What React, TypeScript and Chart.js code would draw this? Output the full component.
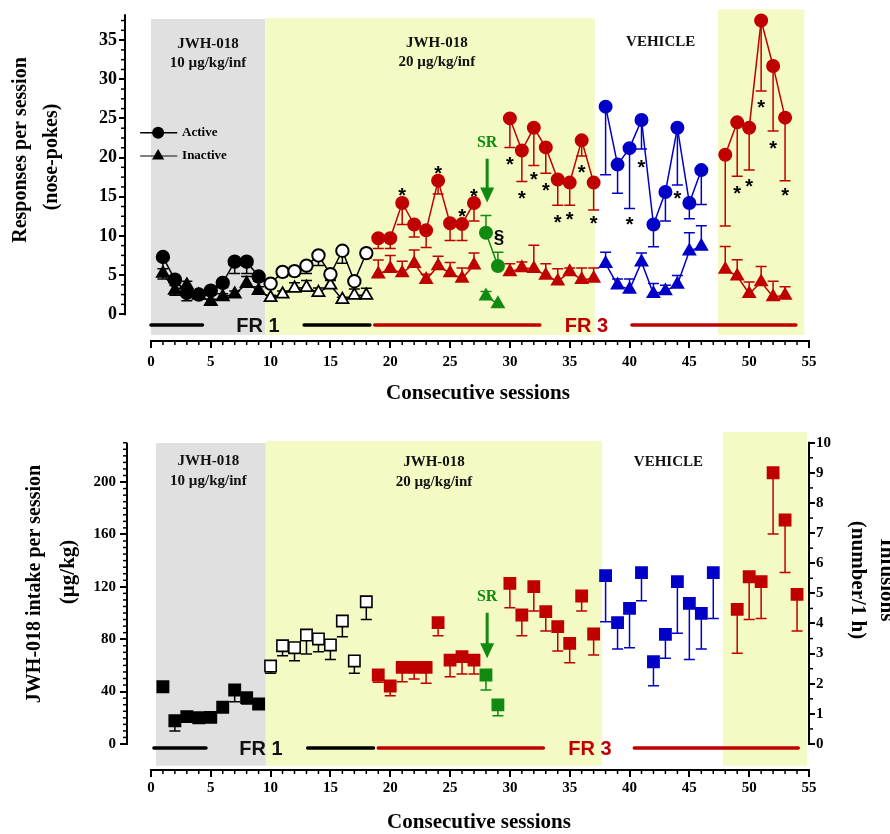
import React, { useEffect, useRef } from 'react';
import { Chart, registerables } from 'chart.js';

Chart.register(...registerables);

const SERIF = '"Liberation Serif", "Times New Roman", serif';
const SANS = '"Liberation Sans", Arial, sans-serif';

const RED = '#C00000';
const BLUE = '#0000C8';
const GREEN = '#118A11';
const BLACK = '#000000';
const WHITE = '#FFFFFF';
const GRAY_BAND = '#E0E0E0';
const YELLOW_BAND = '#F3FAC3';

// ---------------- Top panel: responses per session (nose-pokes) ----------------
const sessA = [1, 2, 3, 4, 5, 6, 7, 8, 9, 10, 11, 12, 13, 14, 15, 16, 17, 18];
const lastSession10ug = 9;
const activeA = [7.3, 4.4, 2.7, 2.5, 3.0, 4.0, 6.7, 6.7, 4.8, 3.9, 5.4, 5.5, 6.2, 7.5, 5.1, 8.1, 4.2, 7.8];
const activeAErr = [2.8, 2.0, 1.0, 0.5, 0.6, 0.6, 1.5, 1.5, 0.6, 0.3, 0.6, 0.6, 1.0, 1.3, 0.6, 1.6, 0.5, 0.6];
const inactiveA = [5.2, 3.05, 3.7, 2.4, 1.6, 2.2, 2.55, 3.9, 3.0, 2.1, 2.55, 3.3, 3.4, 2.75, 3.7, 1.85, 2.4, 2.4];
const inactiveAErr = [0.6, 0.6, 0.5, 0.4, 0.3, 0.4, 0.4, 0.9, 0.5, 0.3, 0.4, 0.7, 0.9, 0.6, 0.6, 0.3, 0.8, 0.9];

const sessB = [19, 20, 21, 22, 23, 24, 25, 26, 27];
const activeB = [9.7, 9.7, 14.2, 11.45, 10.7, 17.05, 11.6, 11.5, 14.2];
const activeBErr = [1.3, 1.3, 2.75, 1.6, 2.2, 1.7, 2.2, 2.1, 2.3];
const inactiveB = [5.1, 5.8, 5.25, 6.45, 4.4, 6.15, 5.25, 4.55, 6.25];
const inactiveBErr = [1.8, 1.7, 1.5, 1.75, 0.7, 1.25, 1.35, 1.35, 1.55];

const sessSR = [28, 29];
const activeSR = [10.4, 6.15];
const activeSRErr = [2.2, 1.75];
const inactiveSR = [2.3, 1.3];
const inactiveSRErr = [0.6, 0];

const sessC = [30, 31, 32, 33, 34, 35, 36, 37];
const activeC = [25.0, 20.9, 23.8, 21.3, 17.2, 16.8, 22.2, 16.8];
const activeCErr = [3.7, 3.95, 4.8, 3.3, 3.3, 2.9, 2.0, 3.5];
const inactiveC = [5.4, 5.9, 5.8, 4.95, 4.2, 5.4, 4.4, 4.55];
const inactiveCErr = [1.05, 0.75, 3.0, 1.5, 1.6, 0.5, 1.5, 1.35];

const sessVeh = [38, 39, 40, 41, 42, 43, 44, 45, 46];
const activeVeh = [26.5, 19.1, 21.2, 24.8, 11.45, 15.6, 23.8, 14.2, 18.4];
const activeVehErr = [8.7, 3.65, 7.7, 3.7, 2.85, 3.7, 7.3, 2.0, 4.4];
const inactiveVeh = [6.45, 3.7, 3.15, 6.65, 2.6, 2.95, 3.8, 8.05, 8.65];
const inactiveVehErr = [1.45, 0.8, 1.35, 1.15, 1.3, 0.75, 1.15, 2.35, 2.65];

const sessE = [48, 49, 50, 51, 52, 53];
const activeE = [20.35, 24.5, 23.8, 37.5, 31.7, 25.1];
const activeEErr = [9.1, 6.9, 5.4, 9.0, 8.3, 8.05];
const inactiveE = [5.7, 4.85, 2.6, 4.1, 2.2, 2.4];
const inactiveEErr = [2.95, 2.1, 1.5, 2.0, 2.0, 1.1];

const starSessions = [21, 24, 26, 27, 30, 31, 32, 33, 34, 35, 36, 37, 40, 41, 44, 49, 50, 51, 52, 53];
const starLevels = [15.8, 18.6, 13.1, 15.7, 19.8, 15.4, 17.8, 16.4, 12.4, 12.7, 18.7, 12.2, 12.1, 19.4, 15.45, 16.0, 17.0, 27.0, 21.8, 15.8];

// ---------------- Bottom panel: JWH-018 intake (µg/kg) ----------------
const intakeSessA = [1, 2, 3, 4, 5, 6, 7, 8, 9, 10, 11, 12, 13, 14, 15, 16, 17, 18];
const intakeA = [43.7, 17.8, 20.9, 20.1, 20.3, 28.0, 41.2, 35.4, 30.5, 59.5, 75.0, 73.5, 83.2, 80.2, 75.6, 93.9, 63.4, 108.6];
const intakeAErr = [0, 7.9, 1.5, 1.5, 3.5, 1.5, 8.9, 4.9, 1.0, 5.5, 7.6, 9.9, 14.5, 9.7, 11.0, 12.0, 9.4, 13.5];
const intakeSessB = [19, 20, 21, 22, 23, 24, 25, 26, 27];
const intakeB = [52.7, 44.3, 58.5, 58.5, 58.5, 92.6, 64.1, 66.7, 64.1];
const intakeBErr = [5.6, 7.4, 10.9, 8.9, 12.2, 9.9, 12.7, 13.3, 10.7];
const intakeSessSR = [28, 29];
const intakeSR = [52.7, 29.8];
const intakeSRErr = [11.5, 8.2];
const intakeSessC = [30, 31, 32, 33, 34, 35, 36, 37];
const intakeC = [122.6, 98.5, 120.1, 101.0, 89.6, 76.8, 113.0, 84.0];
const intakeCErr = [18.5, 15.8, 18.6, 14.7, 18.6, 14.7, 11.5, 16.1];
const intakeSessVeh = [38, 39, 40, 41, 42, 43, 44, 45, 46, 47];
const intakeVeh = [128.5, 92.6, 103.6, 130.8, 62.8, 83.7, 123.9, 107.4, 99.7, 130.8];
const intakeVehErr = [35.1, 20.1, 30.1, 21.4, 18.3, 18.3, 39.4, 42.8, 27.2, 34.9];
const intakeSessE = [49, 50, 51, 52, 53, 54];
const intakeE = [102.8, 127.7, 123.9, 207.1, 171.0, 114.3];
const intakeEErr = [33.6, 32.6, 28.0, 46.8, 40.0, 28.0];

// ---------------- Tick labels ----------------
const xTicks = [0, 5, 10, 15, 20, 25, 30, 35, 40, 45, 50, 55];
const topYTicks = [0, 5, 10, 15, 20, 25, 30, 35];
const intakeTicks = [0, 40, 80, 120, 160, 200];
const infusionTicks = [0, 1, 2, 3, 4, 5, 6, 7, 8, 9, 10];
const intakePerInfusionUnit = 23;

function series(sess: number[], vals: number[], errs: number[], dir: number, style: any) {
  return { data: sess.map((x, i) => ({ x, y: vals[i] })), errors: errs, errDir: dir, ...style };
}

function circleStyle(color: string, fill: any) {
  return {
    pointStyle: 'circle', pointRadius: 6.2, pointBackgroundColor: fill, pointBorderColor: color,
    pointBorderWidth: 1.6, borderColor: color, borderWidth: 1.5, showLine: true, errColor: color,
  };
}
function triStyle(color: string, fill: any) {
  return {
    pointStyle: 'triangle', pointRadius: 7, pointBackgroundColor: fill, pointBorderColor: color,
    pointBorderWidth: 1.6, borderColor: color, borderWidth: 1.5, showLine: true, errColor: color,
  };
}
function squareStyle(color: string, fill: any) {
  return {
    pointStyle: 'rect', pointRadius: 8, pointBackgroundColor: fill, pointBorderColor: color,
    pointBorderWidth: 1.5, borderColor: color, showLine: false, errColor: color,
  };
}

function makeDecor(spec: any) {
  return {
    id: 'decor_' + spec.id,
    beforeDatasetsDraw(chart: any) {
      const { ctx, scales } = chart;
      const X = (v: number) => scales.x.getPixelForValue(v);
      const Y = (v: number) => scales.y.getPixelForValue(v);
      ctx.save();
      for (const b of spec.bands) {
        ctx.fillStyle = b.color;
        ctx.fillRect(X(b.from), Y(b.top), X(b.to) - X(b.from), Y(spec.bandBottom) - Y(b.top));
      }
      ctx.lineCap = 'round';
      ctx.lineWidth = 3.5;
      for (const s of spec.frSegs) {
        ctx.strokeStyle = s.color;
        ctx.beginPath();
        ctx.moveTo(X(s.from), Y(spec.frY));
        ctx.lineTo(X(s.to), Y(spec.frY));
        ctx.stroke();
      }
      ctx.font = `bold 20px ${SANS}`;
      ctx.textAlign = 'center';
      ctx.textBaseline = 'middle';
      for (const l of spec.frLabels) {
        ctx.fillStyle = l.color;
        ctx.fillText(l.text, X(l.x), Y(spec.frY) + 1);
      }
      ctx.lineCap = 'butt';
      chart.data.datasets.forEach((d: any, i: number) => {
        if (!d.errors) return;
        const meta = chart.getDatasetMeta(i);
        const sc = scales[meta.yAxisID];
        ctx.strokeStyle = d.errColor;
        ctx.lineWidth = 1.5;
        meta.data.forEach((el: any, j: number) => {
          const e = d.errors[j];
          if (!e) return;
          const yEnd = sc.getPixelForValue(d.data[j].y + d.errDir * e);
          ctx.beginPath();
          ctx.moveTo(el.x, el.y);
          ctx.lineTo(el.x, yEnd);
          ctx.moveTo(el.x - 5.5, yEnd);
          ctx.lineTo(el.x + 5.5, yEnd);
          ctx.stroke();
        });
      });
      ctx.restore();
    },
    afterDatasetsDraw(chart: any) {
      const { ctx, scales } = chart;
      const X = (v: number) => scales.x.getPixelForValue(v);
      const Y = (v: number) => scales.y.getPixelForValue(v);
      ctx.save();
      // band labels
      ctx.fillStyle = '#111';
      ctx.font = `bold 15px ${SERIF}`;
      ctx.textAlign = 'center';
      ctx.textBaseline = 'middle';
      for (const l of spec.bandLabels) ctx.fillText(l.text, X(l.x), Y(l.y));
      // stars
      if (spec.stars) {
        ctx.font = `bold 20px ${SANS}`;
        ctx.textBaseline = 'alphabetic';
        ctx.fillStyle = '#000';
        spec.stars.xs.forEach((s: number, i: number) => {
          ctx.fillText('*', X(s), Y(spec.stars.ys[i]) + 11.6);
        });
      }
      // SR arrow
      if (spec.arrow) {
        const a = spec.arrow;
        const ax = X(a.x);
        const y0 = Y(a.from);
        const tip = Y(a.to);
        const head = 15;
        ctx.strokeStyle = GREEN;
        ctx.fillStyle = GREEN;
        ctx.lineWidth = 3;
        ctx.beginPath();
        ctx.moveTo(ax, y0);
        ctx.lineTo(ax, tip - head + 1);
        ctx.stroke();
        ctx.beginPath();
        ctx.moveTo(ax - 7, tip - head);
        ctx.lineTo(ax + 7, tip - head);
        ctx.lineTo(ax, tip);
        ctx.closePath();
        ctx.fill();
        ctx.font = `bold 16px ${SERIF}`;
        ctx.textBaseline = 'middle';
        ctx.textAlign = 'center';
        ctx.fillText('SR', ax, Y(a.labelY));
      }
      if (spec.section) {
        ctx.fillStyle = '#000';
        ctx.font = `bold 19px ${SANS}`;
        ctx.textAlign = 'center';
        ctx.textBaseline = 'middle';
        ctx.fillText('§', X(spec.section.x), Y(spec.section.y));
      }
      if (spec.legend) {
        for (const l of spec.legend) {
          const y = Y(l.y);
          ctx.strokeStyle = l.lineColor;
          ctx.lineWidth = 1.5;
          ctx.beginPath();
          ctx.moveTo(X(l.from), y);
          ctx.lineTo(X(l.to), y);
          ctx.stroke();
          const mx = X(l.marker);
          ctx.fillStyle = '#000';
          ctx.beginPath();
          if (l.shape === 'circle') {
            ctx.arc(mx, y, 6, 0, Math.PI * 2);
          } else {
            ctx.moveTo(mx, y - 7);
            ctx.lineTo(mx + 6.1, y + 3.5);
            ctx.lineTo(mx - 6.1, y + 3.5);
            ctx.closePath();
          }
          ctx.fill();
          ctx.font = `bold 13px ${SERIF}`;
          ctx.textAlign = 'left';
          ctx.textBaseline = 'middle';
          ctx.fillText(l.text, X(l.textX), y);
        }
      }
      ctx.restore();
    },
    afterDraw(chart: any) {
      const { ctx, scales, chartArea } = chart;
      const X = (v: number) => scales.x.getPixelForValue(v);
      const Y = (v: number) => scales.y.getPixelForValue(v);
      ctx.save();
      ctx.strokeStyle = '#000';
      ctx.lineWidth = 2;
      // left axis
      const L = chartArea.left;
      ctx.beginPath();
      ctx.moveTo(L, Y(0) + 1);
      ctx.lineTo(L, Y(spec.yTop));
      ctx.stroke();
      ctx.lineWidth = 1.5;
      for (let k = 1; k * spec.yMinor <= spec.yTop; k++) {
        if (k % spec.yMinorPerMajor === 0) continue;
        const yy = Y(k * spec.yMinor);
        ctx.beginPath();
        ctx.moveTo(L - 4, yy);
        ctx.lineTo(L, yy);
        ctx.stroke();
      }
      // x axis
      const B = chartArea.bottom;
      ctx.lineWidth = 2;
      ctx.beginPath();
      ctx.moveTo(X(0) - 1, B);
      ctx.lineTo(X(55) + 1, B);
      ctx.stroke();
      ctx.lineWidth = 1.5;
      for (let s = 1; s < 55; s++) {
        if (s % 5 === 0) continue;
        ctx.beginPath();
        ctx.moveTo(X(s), B);
        ctx.lineTo(X(s), B + 4);
        ctx.stroke();
      }
      // right axis
      if (scales.y2) {
        const R = chartArea.right;
        const Y2 = (v: number) => scales.y2.getPixelForValue(v);
        ctx.lineWidth = 2;
        ctx.beginPath();
        ctx.moveTo(R, Y2(0) + 1);
        ctx.lineTo(R, Y2(10) - 1);
        ctx.stroke();
        ctx.lineWidth = 1.5;
        for (let k = 1; k < 20; k += 2) {
          const yy = Y2(k * 0.5);
          ctx.beginPath();
          ctx.moveTo(R, yy);
          ctx.lineTo(R + 4, yy);
          ctx.stroke();
        }
      }
      // titles
      ctx.fillStyle = '#000';
      for (const t of spec.titles) {
        ctx.save();
        ctx.translate(t.x, t.y);
        ctx.rotate((t.rot * Math.PI) / 180);
        ctx.font = `bold ${t.size}px ${SERIF}`;
        ctx.textAlign = 'center';
        ctx.textBaseline = 'middle';
        ctx.fillText(t.text, 0, 0);
        ctx.restore();
      }
      ctx.restore();
    },
  };
}

function xScale(min: number, height: number, padding: number) {
  return {
    type: 'linear', min, max: 55,
    afterBuildTicks: (a: any) => { a.ticks = xTicks.map((v) => ({ value: v })); },
    afterFit: (a: any) => { a.height = height; },
    ticks: { font: { family: SERIF, weight: 'bold', size: 15 }, color: '#000', padding, autoSkip: false, maxRotation: 0, callback: (v: any) => String(v) },
    grid: { display: true, drawOnChartArea: false, drawTicks: true, tickLength: 7, color: '#000', lineWidth: 2 },
    border: { display: false },
  };
}

function topConfig(): any {
  const fill10 = (s: number[]) => s.map((x) => (x <= lastSession10ug ? BLACK : WHITE));
  const datasets = [
    series(sessA, activeA, activeAErr, -1, { ...circleStyle(BLACK, fill10(sessA)), pointBorderWidth: 2 }),
    series(sessB, activeB, activeBErr, -1, circleStyle(RED, RED)),
    series(sessC, activeC, activeCErr, -1, circleStyle(RED, RED)),
    series(sessSR, activeSR, activeSRErr, 1, circleStyle(GREEN, GREEN)),
    series(sessVeh, activeVeh, activeVehErr, -1, circleStyle(BLUE, BLUE)),
    series(sessE, activeE, activeEErr, -1, circleStyle(RED, RED)),
    series(sessA, inactiveA, inactiveAErr, 1, { ...triStyle(BLACK, fill10(sessA)), pointBorderWidth: 1.8 }),
    series(sessB, inactiveB, inactiveBErr, 1, triStyle(RED, RED)),
    series(sessC, inactiveC, inactiveCErr, 1, triStyle(RED, RED)),
    series(sessSR, inactiveSR, inactiveSRErr, 1, triStyle(GREEN, GREEN)),
    series(sessVeh, inactiveVeh, inactiveVehErr, 1, triStyle(BLUE, BLUE)),
    series(sessE, inactiveE, inactiveEErr, 1, triStyle(RED, RED)),
  ];
  const spec = {
    id: 'top',
    bands: [
      { from: 0, to: 9.55, top: 37.7, color: GRAY_BAND },
      { from: 9.55, to: 37.1, top: 37.8, color: YELLOW_BAND },
      { from: 47.4, to: 54.6, top: 38.9, color: YELLOW_BAND },
    ],
    bandBottom: -2.65,
    frY: -1.4,
    frSegs: [
      { from: 0, to: 4.3, color: BLACK },
      { from: 12.8, to: 18.3, color: BLACK },
      { from: 18.7, to: 32.5, color: RED },
      { from: 40.2, to: 53.9, color: RED },
    ],
    frLabels: [
      { x: 8.95, text: 'FR 1', color: '#111' },
      { x: 36.4, text: 'FR 3', color: RED },
    ],
    bandLabels: [
      { x: 4.77, y: 34.5, text: 'JWH-018' },
      { x: 4.77, y: 32.1, text: '10 \u00B5g/kg/inf' },
      { x: 23.9, y: 34.6, text: 'JWH-018' },
      { x: 23.9, y: 32.2, text: '20 \u00B5g/kg/inf' },
      { x: 42.6, y: 34.8, text: 'VEHICLE' },
    ],
    stars: { xs: starSessions, ys: starLevels },
    arrow: { x: 28.1, from: 19.85, to: 14.25, labelY: 21.9 },
    section: { x: 29.1, y: 9.8 },
    legend: [
      { y: 23.16, from: -0.9, to: 2.2, marker: 0.6, textX: 2.6, text: 'Active', shape: 'circle', lineColor: '#000' },
      { y: 20.2, from: -0.9, to: 2.2, marker: 0.6, textX: 2.6, text: 'Inactive', shape: 'triangle', lineColor: '#555' },
    ],
    yTop: 38.3,
    yMinor: 1.25,
    yMinorPerMajor: 4,
    titles: [
      { text: 'Responses per session', x: 21, y: 150, rot: -90, size: 20 },
      { text: '(nose-pokes)', x: 52, y: 157, rot: -90, size: 20 },
      { text: 'Consecutive sessions', x: 478, y: 394, rot: 0, size: 21 },
    ],
  };
  return {
    type: 'line',
    data: { datasets },
    plugins: [makeDecor(spec)],
    options: {
      animation: false,
      responsive: false,
      maintainAspectRatio: false,
      events: [],
      layout: { padding: { top: 7.5, right: 81, left: 0, bottom: 0 } },
      plugins: { legend: { display: false }, tooltip: { enabled: false }, title: { display: false } },
      scales: {
        x: xScale(-2.17, 76, 5),
        y: {
          type: 'linear', min: -3.43, max: 39,
          afterBuildTicks: (a: any) => { a.ticks = topYTicks.map((v) => ({ value: v })); },
          afterFit: (a: any) => { a.width = 125; },
          ticks: { font: { family: SERIF, weight: 'bold', size: 18, lineHeight: 0.6 }, color: '#000', padding: 2, callback: (v: any) => String(v) },
          grid: { display: true, drawOnChartArea: false, drawTicks: true, tickLength: 6, color: '#000', lineWidth: 2 },
          border: { display: false },
        },
      },
    },
  };
}

function bottomConfig(): any {
  const fill10 = (s: number[]) => s.map((x) => (x <= lastSession10ug ? BLACK : WHITE));
  const datasets = [
    series(intakeSessA, intakeA, intakeAErr, -1, { ...squareStyle(BLACK, fill10(intakeSessA)), pointBorderWidth: 1.6 }),
    series(intakeSessB, intakeB, intakeBErr, -1, squareStyle(RED, RED)),
    series(intakeSessSR, intakeSR, intakeSRErr, -1, squareStyle(GREEN, GREEN)),
    series(intakeSessC, intakeC, intakeCErr, -1, squareStyle(RED, RED)),
    series(intakeSessVeh, intakeVeh, intakeVehErr, -1, squareStyle(BLUE, BLUE)),
    series(intakeSessE, intakeE, intakeEErr, -1, squareStyle(RED, RED)),
  ];
  const yMin = -19.85;
  const yMax = 238.2;
  const spec = {
    id: 'bottom',
    bands: [
      { from: 0.42, to: 9.6, top: 229.8, color: GRAY_BAND },
      { from: 9.6, to: 37.7, top: 231.3, color: YELLOW_BAND },
      { from: 47.8, to: 54.85, top: 238.2, color: YELLOW_BAND },
    ],
    bandBottom: -16.6,
    frY: -3.05,
    frSegs: [
      { from: 0.25, to: 4.6, color: BLACK },
      { from: 13.1, to: 18.6, color: BLACK },
      { from: 19.0, to: 32.8, color: RED },
      { from: 40.4, to: 54.1, color: RED },
    ],
    frLabels: [
      { x: 9.2, text: 'FR 1', color: '#111' },
      { x: 36.7, text: 'FR 3', color: RED },
    ],
    bandLabels: [
      { x: 4.8, y: 216.3, text: 'JWH-018' },
      { x: 4.8, y: 201.0, text: '10 \u00B5g/kg/inf' },
      { x: 23.66, y: 215.5, text: 'JWH-018' },
      { x: 23.66, y: 200.2, text: '20 \u00B5g/kg/inf' },
      { x: 43.25, y: 215.5, text: 'VEHICLE' },
    ],
    stars: null,
    arrow: { x: 28.1, from: 100.2, to: 65.4, labelY: 112.2 },
    section: null,
    legend: null,
    yTop: 230,
    yMinor: 5,
    yMinorPerMajor: 8,
    titles: [
      { text: 'JWH-018 intake per session', x: 35, y: 167, rot: -90, size: 20 },
      { text: '(\u00B5g/kg)', x: 69, y: 155, rot: -90, size: 21 },
      { text: 'Infusions', x: 886, y: 163, rot: 90, size: 21 },
      { text: '(number/1 h)', x: 857, y: 163, rot: 90, size: 21 },
      { text: 'Consecutive sessions', x: 479, y: 406, rot: 0, size: 21 },
    ],
  };
  const yTickStyle = {
    font: { family: SERIF, weight: 'bold', size: 15, lineHeight: 1.2 }, color: '#000', callback: (v: any) => String(v),
  };
  return {
    type: 'line',
    data: { datasets },
    plugins: [makeDecor(spec)],
    options: {
      animation: false,
      responsive: false,
      maintainAspectRatio: false,
      events: [],
      layout: { padding: { top: 15, right: 0, left: 0, bottom: 0 } },
      plugins: { legend: { display: false }, tooltip: { enabled: false }, title: { display: false } },
      scales: {
        x: xScale(-2.0, 64, 2),
        y: {
          type: 'linear', position: 'left', min: yMin, max: yMax,
          afterBuildTicks: (a: any) => { a.ticks = intakeTicks.map((v) => ({ value: v })); },
          afterFit: (a: any) => { a.width = 127; },
          ticks: { ...yTickStyle, padding: 4 },
          grid: { display: true, drawOnChartArea: false, drawTicks: true, tickLength: 7, color: '#000', lineWidth: 2 },
          border: { display: false },
        },
        y2: {
          type: 'linear', position: 'right', min: yMin / intakePerInfusionUnit, max: yMax / intakePerInfusionUnit,
          afterBuildTicks: (a: any) => { a.ticks = infusionTicks.map((v) => ({ value: v })); },
          afterFit: (a: any) => { a.width = 81; },
          ticks: { ...yTickStyle, padding: 1 },
          grid: { display: true, drawOnChartArea: false, drawTicks: true, tickLength: 6, color: '#000', lineWidth: 2 },
          border: { display: false },
        },
      },
    },
  };
}

export default function App() {
  const topRef = useRef<HTMLCanvasElement>(null);
  const botRef = useRef<HTMLCanvasElement>(null);
  useEffect(() => {
    const c1 = new Chart(topRef.current as HTMLCanvasElement, topConfig());
    const c2 = new Chart(botRef.current as HTMLCanvasElement, bottomConfig());
    return () => {
      c1.destroy();
      c2.destroy();
    };
  }, []);
  return (
    <div style={{ position: 'absolute', left: 0, top: 0, width: 890, height: 834, background: '#fff', overflow: 'hidden' }}>
      <canvas ref={topRef} width={890} height={417} style={{ position: 'absolute', left: 0, top: 0, width: 890, height: 417 }} />
      <canvas ref={botRef} width={890} height={417} style={{ position: 'absolute', left: 0, top: 417, width: 890, height: 417 }} />
    </div>
  );
}
